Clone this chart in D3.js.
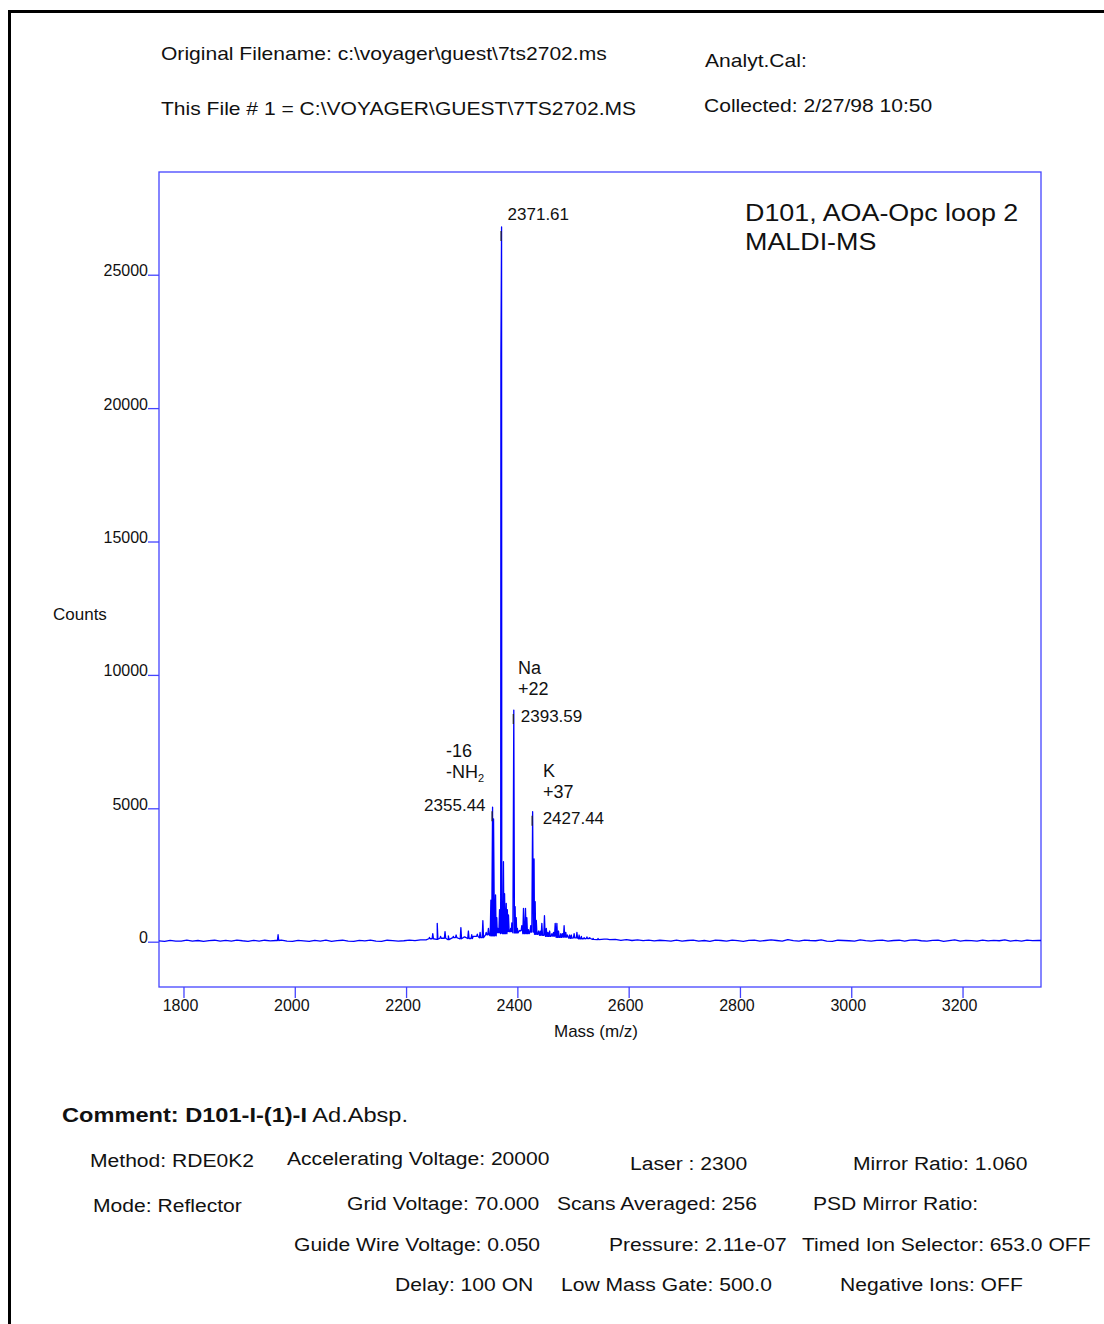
<!DOCTYPE html>
<html>
<head>
<meta charset="utf-8">
<script src="https://cdn.jsdelivr.net/npm/d3@7"></script>
<style>
  body { margin: 0; background: #fff; }
  text { font-family: "Liberation Sans", Arial, sans-serif; fill: #111; }
</style>
</head>
<body>
<div id="container"></div>
<script>
// axis ticks
const xTicks = [1800, 2000, 2200, 2400, 2600, 2800, 3000, 3200];
const yTicks = [0, 5000, 10000, 15000, 20000, 25000];

// peaks (m/z, counts)
const peakMass = [1970, 2242, 2248, 2256, 2262, 2270, 2276, 2285, 2290, 2298.5, 2305, 2312, 2318,
  2322, 2328, 2333, 2338, 2344, 2348, 2352.4, 2355.44, 2357.2, 2360.8, 2363, 2365, 2368,
  2370.4, 2371.61, 2375, 2377, 2380, 2382, 2384, 2388, 2390, 2393.59, 2396, 2398, 2400, 2405,
  2408, 2411, 2414.6, 2417, 2420, 2424, 2427.44, 2430, 2432, 2434, 2438, 2441, 2444, 2448.7,
  2452, 2455, 2458, 2462, 2465, 2468, 2471, 2474, 2478, 2481, 2484, 2487, 2490, 2494, 2497,
  2502, 2507, 2511, 2515, 2520, 2525, 2530, 2536, 2545, 2560];
const peakCounts = [260, 160, 300, 690, 200, 380, 220, 200, 250, 530, 180, 400, 260,
  200, 280, 350, 790, 350, 500, 1560, 5040, 4600, 1750, 900, 500, 1200,
  22000, 26790, 3000, 1800, 1440, 1200, 1000, 500, 700, 8680, 1310, 900, 500, 400,
  600, 1250, 1250, 900, 450, 600, 4870, 3100, 1500, 800, 400, 400, 690, 975,
  500, 350, 400, 300, 350, 690, 690, 400, 300, 300, 600, 350, 250, 250, 250,
  300, 350, 250, 200, 150, 180, 150, 120, 120, 100];

// baseline level, one value every 10 m/z from 1756
const baseStart = 1756;
const baseStep = 10;
const baseCounts = [30, 15, 50, 25, 20, 60, 25, 45, 10, 40, 55, 20, 50, 25, 60, 35, 15, 50, 25, 55, 30,
  45, 60, 20, 15, 50, 30, 10, 50, 25, 60, 15, 40, 55, 25, 15, 50, 30, 60, 20, 15, 55, 40, 25, 35, 60, 40, 70,
  70, 110, 90, 130, 80, 150, 110, 170, 120, 200, 150,
  260, 220, 340, 300, 380, 330, 420, 300, 360,
  280, 240, 200, 210, 160, 170, 130, 140, 110, 120, 90, 80, 95,
  75, 85, 50, 75, 45, 65, 40, 60, 30, 55,
  40, 20, 55, 25, 45, 60, 25, 45, 15, 60, 45, 25, 60, 40, 15, 50, 60, 25, 45, 65,
  45, 20, 75, 40, 25, 60, 45, 35, 65, 25, 15, 55, 45, 35, 25, 65, 40, 20, 50, 60,
  25, 45, 55, 20, 60, 65, 35, 25, 50, 55, 15, 40, 65, 25, 50, 40, 20, 60, 30, 50,
  35, 65, 20, 50, 25, 60, 40, 50, 40];

// labelled peaks
const labelMass = [2371.61, 2393.59, 2355.44, 2427.44];

const header = [
  ["Original Filename: c:\\voyager\\guest\\7ts2702.ms", 161, 60],
  ["This File # 1 = C:\\VOYAGER\\GUEST\\7TS2702.MS", 161, 115],
  ["Analyt.Cal:", 705, 67],
  ["Collected: 2/27/98 10:50", 704, 112]
];
const footer = [
  ["Method: RDE0K2", 90, 1167], ["Accelerating Voltage: 20000", 287, 1165],
  ["Laser : 2300", 630, 1170], ["Mirror Ratio: 1.060", 853, 1170],
  ["Mode: Reflector", 93, 1212], ["Grid Voltage: 70.000", 347, 1210],
  ["Scans Averaged: 256", 557, 1210], ["PSD Mirror Ratio:", 813, 1210],
  ["Guide Wire Voltage: 0.050", 294, 1251], ["Pressure: 2.11e-07", 609, 1251],
  ["Timed Ion Selector: 653.0 OFF", 802, 1251],
  ["Delay: 100 ON", 395, 1291], ["Low Mass Gate: 500.0", 561, 1291],
  ["Negative Ions: OFF", 840, 1291]
];

const width = 1104;
const height = 1324;
const boxColor = "#4444ff";
const lineColor = "#0000ff";

const svg = d3.select("#container").append("svg")
  .attr("width", width)
  .attr("height", height)
  .style("display", "block");

// the printout stretches text horizontally
function wideText(parent, str, px, py, size, sx) {
  return parent.append("text")
    .attr("transform", `translate(${px},${py}) scale(${sx},1)`)
    .style("font-size", size + "px")
    .text(str);
}

// page frame
svg.append("path")
  .attr("d", `M9.5,${height} V11.5 H${width}`)
  .attr("fill", "none")
  .attr("stroke", "#000")
  .attr("stroke-width", 3);

const x = d3.scaleLinear().domain([1756, 3341]).range([159, 1041]);
const y = d3.scaleLinear().domain([-1698, 28850]).range([987, 172]);

// plot box
svg.append("rect")
  .attr("x", 159).attr("y", 172)
  .attr("width", 1041 - 159).attr("height", 987 - 172)
  .attr("fill", "none")
  .attr("stroke", boxColor)
  .attr("stroke-width", 1.3);

// x axis
const gx = svg.append("g")
  .attr("transform", "translate(0,987)")
  .call(d3.axisBottom(x).tickValues(xTicks).tickSize(11).tickPadding(2).tickFormat(d3.format("d")));
gx.select(".domain").remove();
gx.selectAll("line").attr("stroke", boxColor).attr("stroke-width", 1.3);
gx.selectAll("text").style("font-size", "16px").attr("fill", "#111").attr("dx", "-3.5");

// y axis
const gy = svg.append("g")
  .attr("transform", "translate(159,0)")
  .call(d3.axisLeft(y).tickValues(yTicks).tickSize(11).tickPadding(0).tickFormat(d3.format("d")));
gy.select(".domain").remove();
gy.selectAll("line").attr("stroke", boxColor).attr("stroke-width", 1.3);
gy.selectAll("text").style("font-size", "16px").attr("fill", "#111").attr("dy", "1");

svg.append("text").attr("x", 53).attr("y", 620).style("font-size", "17px").text("Counts");
svg.append("text").attr("x", 596).attr("y", 1037).attr("text-anchor", "middle")
  .style("font-size", "17px").text("Mass (m/z)");

// spectrum points: baseline + peaks
const points = baseCounts.map((c, i) => [baseStart + i * baseStep, c]);
function baseAt(m) {
  const i = Math.max(0, Math.min(baseCounts.length - 1, Math.round((m - baseStart) / baseStep)));
  return baseCounts[i];
}
peakMass.forEach((m, i) => {
  const hw = peakCounts[i] > 4000 ? 1.6 : 1.2;
  points.push([m - hw, baseAt(m)], [m, peakCounts[i]], [m + hw, baseAt(m)]);
});
points.sort((a, b) => a[0] - b[0]);

svg.append("clipPath").attr("id", "plot-clip")
  .append("rect").attr("x", 159).attr("y", 172).attr("width", 882).attr("height", 815);

svg.append("path")
  .datum(points)
  .attr("clip-path", "url(#plot-clip)")
  .attr("fill", "none")
  .attr("stroke", lineColor)
  .attr("stroke-width", 1.3)
  .attr("stroke-linejoin", "round")
  .attr("d", d3.line().x(d => x(d[0])).y(d => y(d[1])));

// small black label markers near apex
svg.selectAll(".marker")
  .data(labelMass)
  .enter()
  .append("line")
  .attr("class", "marker")
  .attr("x1", d => x(d) - 0.5).attr("x2", d => x(d) - 0.5)
  .attr("y1", d => y(peakCounts[peakMass.indexOf(d)]) + 4)
  .attr("y2", d => y(peakCounts[peakMass.indexOf(d)]) + 14)
  .attr("stroke", "#222")
  .attr("stroke-width", 1.2);

// peak labels
const ann = svg.append("g").style("font-size", "17px");
ann.append("text").attr("x", x(2371.61) + 6).attr("y", 220).text("2371.61");
ann.append("text").attr("x", x(2393.59) + 7).attr("y", 722).text("2393.59");
ann.append("text").attr("x", x(2355.44) - 7).attr("y", 811).attr("text-anchor", "end").text("2355.44");
ann.append("text").attr("x", x(2427.44) + 10).attr("y", 824).text("2427.44");

const big = svg.append("g").style("font-size", "18px");
big.append("text").attr("x", 518).attr("y", 674).text("Na");
big.append("text").attr("x", 518).attr("y", 695).text("+22");
big.append("text").attr("x", 446).attr("y", 757).text("-16");
const nh = big.append("text").attr("x", 446).attr("y", 778).text("-NH");
nh.append("tspan").attr("dy", 4).style("font-size", "11px").text("2");
big.append("text").attr("x", 543).attr("y", 777).text("K");
big.append("text").attr("x", 543).attr("y", 798).text("+37");

// title in plot
wideText(svg, "D101, AOA-Opc loop 2", 745, 221, 24, 1.12);
wideText(svg, "MALDI-MS", 745, 250, 24, 1.12);

// header
header.forEach(d => wideText(svg, d[0], d[1], d[2], 18, 1.17));

// comment + instrument settings
const cm = svg.append("text")
  .attr("transform", "translate(62,1122) scale(1.18,1)")
  .style("font-size", "20px");
cm.append("tspan").style("font-weight", "bold").text("Comment: D101-I-(1)-I");
cm.append("tspan").text(" Ad.Absp.");

footer.forEach(d => wideText(svg, d[0], d[1], d[2], 19, 1.11));
</script>
</body>
</html>
